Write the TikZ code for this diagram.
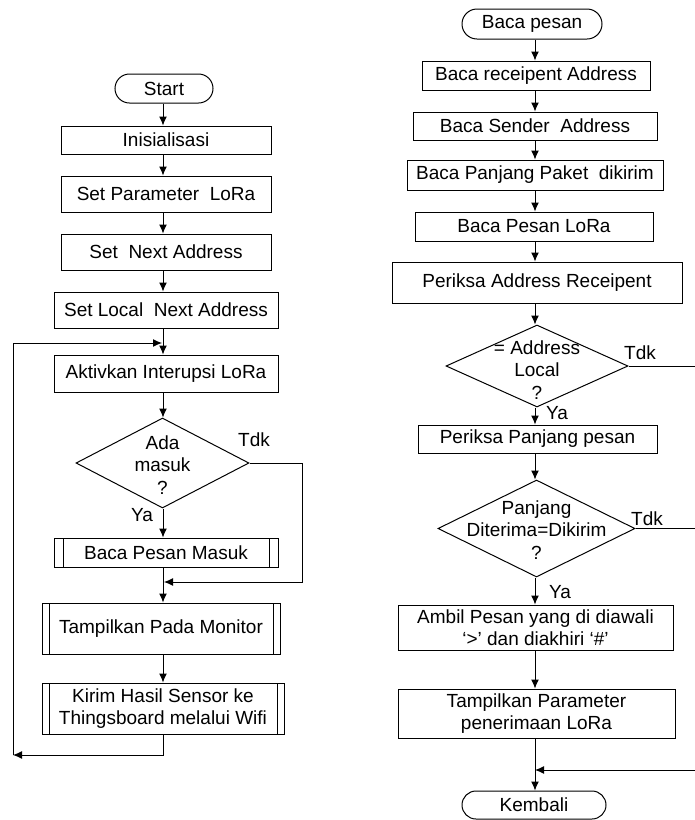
\documentclass[tikz,border=0pt]{standalone}
\usepackage{fontspec}
\setmainfont{Liberation Sans}
\usetikzlibrary{positioning,calc,arrows.meta,shapes.geometric,shapes.misc}

\tikzset{
  box/.style={draw,line width=1pt,align=center,inner sep=2pt},
  subproc/.style={box,path picture={
    \draw ([xshift=#1]path picture bounding box.north west) -- ([xshift=#1]path picture bounding box.south west);
    \draw ([xshift=-#1]path picture bounding box.north east) -- ([xshift=-#1]path picture bounding box.south east);}},
  subproc/.default=7pt,
  terminal/.style={draw,line width=1pt,rounded rectangle,inner sep=2pt},
  decision/.style={draw,line width=1pt,diamond,inner sep=0pt},
  lbl/.style={align=center,inner sep=0pt}
}

\begin{document}
\begin{tikzpicture}[x=1pt,y=-1pt,>={Latex[length=9pt,width=8pt]},line width=1pt,
  every node/.style={font=\fontsize{19}{22.5}\selectfont}]
\useasboundingbox (0,0) rectangle (695,820);

% kiri: program utama
\node[terminal,minimum width=102,minimum height=29] (start) at (164,88.5) {Start};
\node[box,minimum width=210,minimum height=28] (init) at (166,140) {Inisialisasi};
\node[box,minimum width=210,minimum height=36] (param) at (166,194) {Set Parameter\ \ LoRa};
\node[box,minimum width=210,minimum height=36] (next) at (166,252) {Set\ \ Next Address};
\node[box,minimum width=224,minimum height=36] (local) at (166,310) {Set Local\ \ Next Address};
\node[box,minimum width=224,minimum height=37] (aktif) at (166,373.5) {Aktivkan Interupsi LoRa};
\node[decision,minimum width=173,minimum height=90] (cek1) at (162.5,463) {};
\node[lbl] (cek1txt) at (162.5,465) {Ada\\masuk\\?};
\node[subproc=9pt,minimum width=224,minimum height=29] (bacamasuk) at (166,552.5) {Baca Pesan Masuk};
\node[subproc,minimum width=238,minimum height=51] (tampil) at (161,628.5) {Tampilkan Pada Monitor};
\node[subproc,minimum width=242,minimum height=51] (kirim) at (163,708.5) {Kirim Hasil Sensor ke\\Thingsboard melalui Wifi};

\coordinate (sumbuL) at (163,0);
\foreach \a/\b in {start/init,init/param,param/next,next/local,local/aktif,aktif/cek1,cek1/bacamasuk,bacamasuk/tampil,tampil/kirim}
  \draw[->] (\a.south -| sumbuL) -- (\b.north -| sumbuL);

\node[lbl] (ya1) at (142,515) {Ya};
\node[lbl] (tdk1) at (254,440) {Tdk};
\coordinate (kanan1) at (302,463);
\coordinate (sambung1) at (164,582);
\draw[->] (cek1.east) -- (kanan1) |- (sambung1);

% loop kembali ke interupsi
\coordinate (loopbl) at (13,755);
\coordinate (looptop) at (162,343);
\draw[->] (kirim.south -| sumbuL) |- (loopbl);
\draw[->] (loopbl) |- (looptop);

% kanan: baca pesan
\node[terminal,minimum width=144,minimum height=30] (bacapesan) at (532,24) {Baca pesan};
\node[box,minimum width=228,minimum height=29] (rcpt) at (536,75.5) {Baca receipent Address};
\node[box,minimum width=244,minimum height=28] (sender) at (535,126) {Baca Sender\ \ Address};
\node[box,minimum width=256,minimum height=30] (paket) at (535,175) {Baca Panjang Paket\ \ dikirim};
\node[box,minimum width=238,minimum height=29] (pesan) at (534,226.5) {Baca Pesan LoRa};
\node[box,minimum width=290,minimum height=41] (periksa) at (537,282.5) {Periksa Address Receipent};
\node[decision,minimum width=182,minimum height=82] (cek2) at (537,366) {};
\node[lbl] (cek2txt) at (537,370) {= Address\\Local\\?};
\node[box,minimum width=239,minimum height=28] (panjang) at (537.5,439) {Periksa Panjang pesan};
\node[decision,minimum width=197,minimum height=97] (cek3) at (536.5,528.5) {};
\node[lbl] (cek3txt) at (536.5,530) {Panjang\\Diterima=Dikirim\\?};
\node[box,minimum width=275,minimum height=45] (ambil) at (535.5,627.5) {Ambil Pesan yang di diawali\\‘>’ dan diakhiri ‘\#’};
\node[box,minimum width=277,minimum height=49] (tampilpar) at (536.5,713.5) {Tampilkan Parameter\\penerimaan LoRa};
\node[terminal,minimum width=148,minimum height=28] (kembali) at (534,805) {Kembali};

\coordinate (sumbuR) at (535,0);
\foreach \a/\b in {bacapesan/rcpt,rcpt/sender,sender/paket,paket/pesan,pesan/periksa,periksa/cek2,cek2/panjang,panjang/cek3,cek3/ambil,ambil/tampilpar,tampilpar/kembali}
  \draw[->] (\a.south -| sumbuR) -- (\b.north -| sumbuR);

\node[lbl] (ya2) at (557,413) {Ya};
\node[lbl] (tdk2) at (640,353) {Tdk};
\node[lbl] (ya3) at (560,592) {Ya};
\node[lbl] (tdk3) at (647,519) {Tdk};

\coordinate (tepi) at (695,0);
\coordinate (sambung2) at (535,770);
\draw (cek2.east) -- (cek2.east -| tepi);
\draw (cek3.east) -- (cek3.east -| tepi);
\draw[->] (tepi |- sambung2) -- (sambung2);
\end{tikzpicture}
\end{document}
